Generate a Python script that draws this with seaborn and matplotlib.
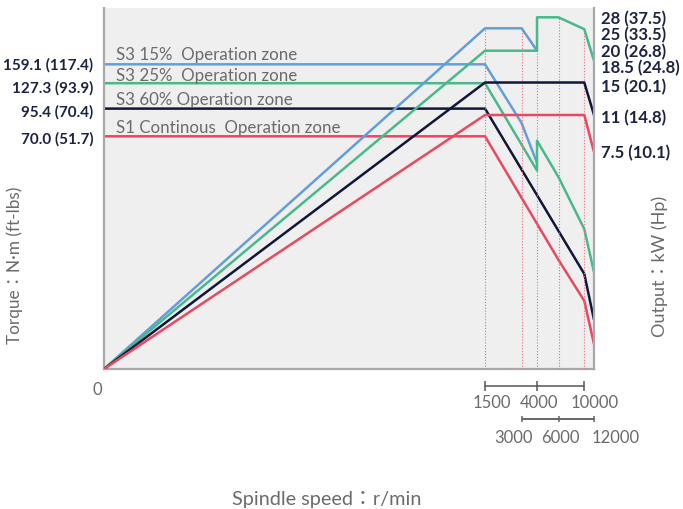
import numpy as np
import pandas as pd
import matplotlib
matplotlib.use("Agg")
import matplotlib.pyplot as plt
import seaborn as sns

# ---- data ----
zones = ["S3 15%", "S3 25%", "S3 60%", "S1"]
zone_text = ["S3 15%  Operation zone", "S3 25%  Operation zone",
             "S3 60% Operation zone", "S1 Continous  Operation zone"]
colors = ["#649ed9", "#48b98b", "#10163a", "#e94860"]

# torque curves, N·m vs r/min
tq_rpm = {
    "S3 15%": [0, 1500, 3000, 4000],
    "S3 25%": [0, 1500, 4000, 4000, 6000, 10000, 12000],
    "S3 60%": [0, 1500, 10000, 12000],
    "S1": [0, 1500, 6000, 10000, 12000],
}
tq_nm = {
    "S3 15%": [159.1, 159.1, 82.0, 62.0],
    "S3 25%": [127.3, 127.3, 59.7, 68.7, 57.7, 42.1, 29.1],
    "S3 60%": [95.4, 95.4, 28.6, 14.8],
    "S1": [70.0, 70.0, 32.8, 20.5, 7.5],
}
# output curves, kW vs r/min
pw_rpm = {
    "S3 15%": [0, 1500, 3000, 4000],
    "S3 25%": [0, 1500, 4000, 4000, 6000, 10000, 12000],
    "S3 60%": [0, 1500, 10000, 12000],
    "S1": [0, 1500, 10000, 12000],
}
pw_kw = {
    "S3 15%": [0, 25, 25, 20],
    "S3 25%": [0, 20, 20, 28, 28, 24.8, 18.5],
    "S3 60%": [0, 15, 15, 11],
    "S1": [0, 11, 11, 7.5],
}

torque_ticks = [159.1, 127.3, 95.4, 70.0]
torque_labels = ["159.1 (117.4)", "127.3 (93.9)", "95.4 (70.4)", "70.0 (51.7)"]
power_ticks = [28, 25, 20, 18.5, 15, 11, 7.5]
power_labels = ["28 (37.5)", "25 (33.5)", "20 (26.8)", "18.5 (24.8)",
                "15 (20.1)", "11 (14.8)", "7.5 (10.1)"]
guide_rpm = [1500, 3000, 4000, 6000, 10000]
guide_top_kw = [25, 25, 28, 28, 24.8]
row1_rpm = [1500, 4000, 10000]
row2_rpm = [3000, 6000, 12000]

# ---- schematic (piecewise) axis scales ----
rpm_anchor = [0, 1500, 3000, 4000, 6000, 10000, 12000]
rpm_pos = [0, 0.7776, 0.8524, 0.8837, 0.9276, 0.9802, 1.0]
tq_anchor = [0, 70, 95.4, 127.3, 159.1, 254]
tq_pos = [0, 0.6446, 0.7213, 0.7917, 0.8440, 1.0]
pw_anchor = [0, 7.5, 11, 15, 18.5, 20, 25, 28, 30.5]
pw_pos = [0, 0.6011, 0.7036, 0.7936, 0.8540, 0.8817, 0.9438, 0.9742, 1.0]


def piecewise(a, p):
    fwd = lambda v: np.interp(np.asarray(v, dtype=float), a, p)
    inv = lambda v: np.interp(np.asarray(v, dtype=float), p, a)
    return fwd, inv


tq_df = pd.concat([pd.DataFrame({"rpm": tq_rpm[z], "val": tq_nm[z], "zone": z}) for z in zones])
pw_df = pd.concat([pd.DataFrame({"rpm": pw_rpm[z], "val": pw_kw[z], "zone": z}) for z in zones])
pal = dict(zip(zones, colors))

sns.set_style("white")
plt.rcParams["font.family"] = ["Lato", "Noto Sans CJK JP", "DejaVu Sans"]
gray = "#6b6b6b"
navy = "#1c2242"

fig = plt.figure(figsize=(6.83, 5.10), dpi=100)
ax = fig.add_axes([104 / 683, 1 - 370 / 510, 490 / 683, 361 / 510])
ax.set_facecolor("#efefef")
ax2 = ax.twinx()

ax.set_xscale("function", functions=piecewise(rpm_anchor, rpm_pos))
ax.set_yscale("function", functions=piecewise(tq_anchor, tq_pos))
ax2.set_yscale("function", functions=piecewise(pw_anchor, pw_pos))

ax2.vlines(guide_rpm, 0, guide_top_kw, colors="#ee6a7c", linestyles=(0, (1, 1.6)), lw=0.8, zorder=1)

sns.lineplot(data=tq_df, x="rpm", y="val", hue="zone", palette=pal, estimator=None,
             sort=False, legend=False, lw=1.8, ax=ax)
sns.lineplot(data=pw_df, x="rpm", y="val", hue="zone", palette=pal, estimator=None,
             sort=False, legend=False, lw=1.8, ax=ax2)

ax.set_xlim(0, 12000)
ax.set_ylim(0, 254)
ax2.set_ylim(0, 30.5)
for a in (ax, ax2):
    a.set_xlabel("")
    a.set_ylabel("")
    a.set_xticks([])
    a.set_yticks([])
    for s in a.spines.values():
        s.set_visible(False)
for s, a in [("left", ax), ("bottom", ax), ("right", ax2)]:
    a.spines[s].set_visible(True)
    a.spines[s].set_color("#a8a8a8")
    a.spines[s].set_linewidth(1.6)

# zone captions above the torque lines
gaps = [5.7, 3.3, 4.7, 4.3]
for val, txt, g in zip(torque_ticks, zone_text, gaps):
    ax.annotate(txt, xy=(0, val), xycoords=ax.get_yaxis_transform(), xytext=(8.6, g * 0.72),
                textcoords="offset points", ha="left", va="baseline", fontsize=12.2, color=gray)

# left / right value labels
left_nudge = [0, 4, 3, 2]
for val, lab, n in zip(torque_ticks, torque_labels, left_nudge):
    ax.annotate(lab, xy=(0, val), xycoords=ax.get_yaxis_transform(), xytext=(-7.5, -n * 0.72),
                textcoords="offset points", ha="right", va="center", fontsize=11,
                fontweight="bold", color=navy)
right_nudge = [1, 5.5, 0.6, 6.6, 4, 2, 0]
for val, lab, n in zip(power_ticks, power_labels, right_nudge):
    ax2.annotate(lab, xy=(1, val), xycoords=ax2.get_yaxis_transform(), xytext=(5, -n * 0.72),
                 textcoords="offset points", ha="left", va="center", fontsize=12,
                 fontweight="bold", color=navy)

# speed brackets under the axis
xt = ax.get_xaxis_transform()
ax.plot(row1_rpm, [-0.0463] * 3, transform=xt, clip_on=False, color="#555555", lw=1.1,
        marker="|", ms=6.5, mew=1.1)
ax.plot(row2_rpm, [-0.1385] * 3, transform=xt, clip_on=False, color="#666666", lw=1.4,
        marker="|", ms=4.5, mew=1.1)
for r, n in zip(row1_rpm, [7, 2.5, 10]):
    ax.annotate(str(r), xy=(r, -0.0914), xycoords=xt, xytext=(n * 0.72, 0), textcoords="offset points",
                ha="center", va="center", fontsize=12, color=gray)
for r, n in zip(row2_rpm, [-7.7, 2.3, 22]):
    ax.annotate(str(r), xy=(r, -0.1884), xycoords=xt, xytext=(n * 0.72, 0), textcoords="offset points",
                ha="center", va="center", fontsize=12, color=gray)
ax.annotate("0", xy=(0, -0.0554), xycoords=xt, xytext=(-5, 0), textcoords="offset points",
            ha="center", va="center", fontsize=12, color=gray)

fig.text(15 / 683, 1 - 265 / 510, "Torque：N·m (ft-lbs)", rotation=90, ha="center", va="center",
         fontsize=12.4, color=gray)
fig.text(660 / 683, 1 - 266 / 510, "Output：kW (Hp)", rotation=90, ha="center", va="center",
         fontsize=13, color=gray)
fig.text(327 / 683, 1 - 500 / 510, "Spindle speed：r/min", ha="center", va="center",
         fontsize=14.3, color=gray)

fig.savefig("out.png", dpi=100)
